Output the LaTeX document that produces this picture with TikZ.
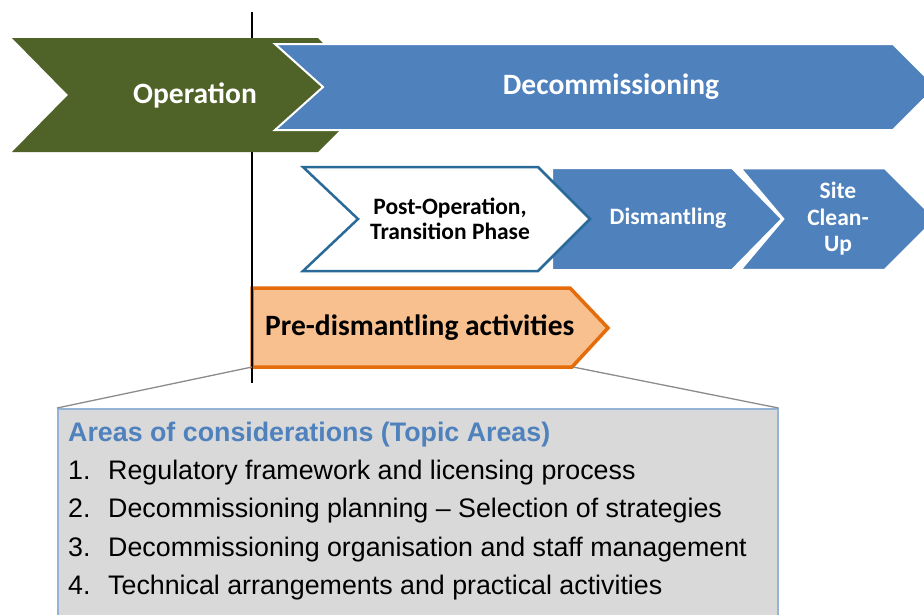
\documentclass[tikz,border=0pt]{standalone}
\usepackage{fontspec}
\setmainfont{Carlito}
\newfontfamily\arialfont{Liberation Sans}
\definecolor{opgreen}{HTML}{4F6228}
\definecolor{decblue}{HTML}{4F81BD}
\definecolor{postblue}{HTML}{2A6A98}
\definecolor{orfill}{HTML}{F9C08F}
\definecolor{orline}{HTML}{E46C0A}
\definecolor{boxfill}{HTML}{D9D9D9}
\definecolor{boxline}{HTML}{95B3D7}
\definecolor{titleblue}{HTML}{4F81BD}
\begin{document}
\begin{tikzpicture}[x=1pt,y=-1pt,
  bigwhite/.style={text=white,font=\fontsize{29.5}{34}\selectfont\bfseries,inner sep=0pt},
  midwhite/.style={text=white,font=\fontsize{23.5}{26}\selectfont\bfseries,inner sep=0pt,align=center},
  midblack/.style={text=black,font=\fontsize{23.5}{25}\selectfont\bfseries,inner sep=0pt,align=center},
  chevblue/.style={fill=decblue,draw=white,line width=2pt,line join=miter},
  timeline/.style={draw=black,line width=2pt},
  link/.style={draw=gray!90,line width=1.3pt},
  listtext/.style={font=\arialfont\fontsize{26.8}{30}\selectfont,inner sep=0pt,anchor=base west}]
\useasboundingbox (0,0) rectangle (924,614);
\clip (0,0) rectangle (924,614);
\fill[white] (0,0) rectangle (924,614);
% time line ends
\coordinate (tltop) at (252,12);
\coordinate (tlbot) at (252,383);
% Operation
\fill[opgreen] (12,38) -- (318,38) -- (375,95) -- (318,152) -- (12,152) -- (68,95) -- cycle;
\coordinate (opbot) at (252,152);
\coordinate (optop) at (252,38);
% Decommissioning
\filldraw[chevblue] (275,44) -- (893,44) -- (936,87) -- (893,130) -- (275,130) -- (323,87) -- cycle;
\node[bigwhite] (op) at (195,95) {Operation};
\node[bigwhite] (dec) at (611,87) {Decommissioning};
% Dismantling
\filldraw[chevblue] (552,168) -- (732,168) -- (782,219) -- (732,270) -- (552,270) -- cycle;
% Site clean-up
\filldraw[chevblue,line width=2.5pt] (740,168) -- (885,168) -- (936,219) -- (885,270) -- (740,270) -- (783,219) -- cycle;
% Post-operation
\filldraw[fill=white,draw=postblue,line width=2.5pt] (303,167) -- (538,167) -- (590,219) -- (538,271) -- (303,271) -- (358,219) -- cycle;
\node[midblack] (post) at (450,219) {Post-Operation,\\Transition Phase};
\node[midwhite] (dis) at (668,218) {Dismantling};
\node[midwhite,font=\fontsize{23.5}{26.5}\selectfont\bfseries] (site) at (838,219) {Site\\Clean-\\Up};
% Pre-dismantling
\filldraw[fill=orfill,draw=orline,line width=3.5pt] (252,288) -- (570,288) -- (608,328) -- (572,367) -- (252,367) -- cycle;
\coordinate (prelb) at (252,367);
\coordinate (prerb) at (573,367);
\node[text=black,font=\fontsize{29.5}{34}\selectfont\bfseries,inner sep=0pt,anchor=west] (pre) at (265,328) {Pre-dismantling activities};
% timeline
\draw[timeline] (tltop) -- (optop);
\draw[timeline] (opbot) -- (tlbot);
% box
\node[draw=boxline,fill=boxfill,line width=1.5pt,minimum width=720pt,minimum height=230pt,anchor=north west,inner sep=0pt] (box) at (57,408) {};
\draw[link] (prelb) -- (box.north west);
\draw[link] (prerb) -- (box.north east);
\node[listtext,font=\arialfont\fontsize{26.8}{30}\selectfont\bfseries,text=titleblue] (title) at (68,441) {Areas of considerations (Topic Areas)};
\node[listtext] (n1) at (68,479) {1.};
\node[listtext] (t1) at (108,479) {Regulatory framework and licensing process};
\node[listtext] (n2) at (68,517.5) {2.};
\node[listtext] (t2) at (108,517.5) {Decommissioning planning – Selection of strategies};
\node[listtext] (n3) at (68,556) {3.};
\node[listtext] (t3) at (108,556) {Decommissioning organisation and staff management};
\node[listtext] (n4) at (68,594.5) {4.};
\node[listtext] (t4) at (108,594.5) {Technical arrangements and practical activities};
\end{tikzpicture}
\end{document}
